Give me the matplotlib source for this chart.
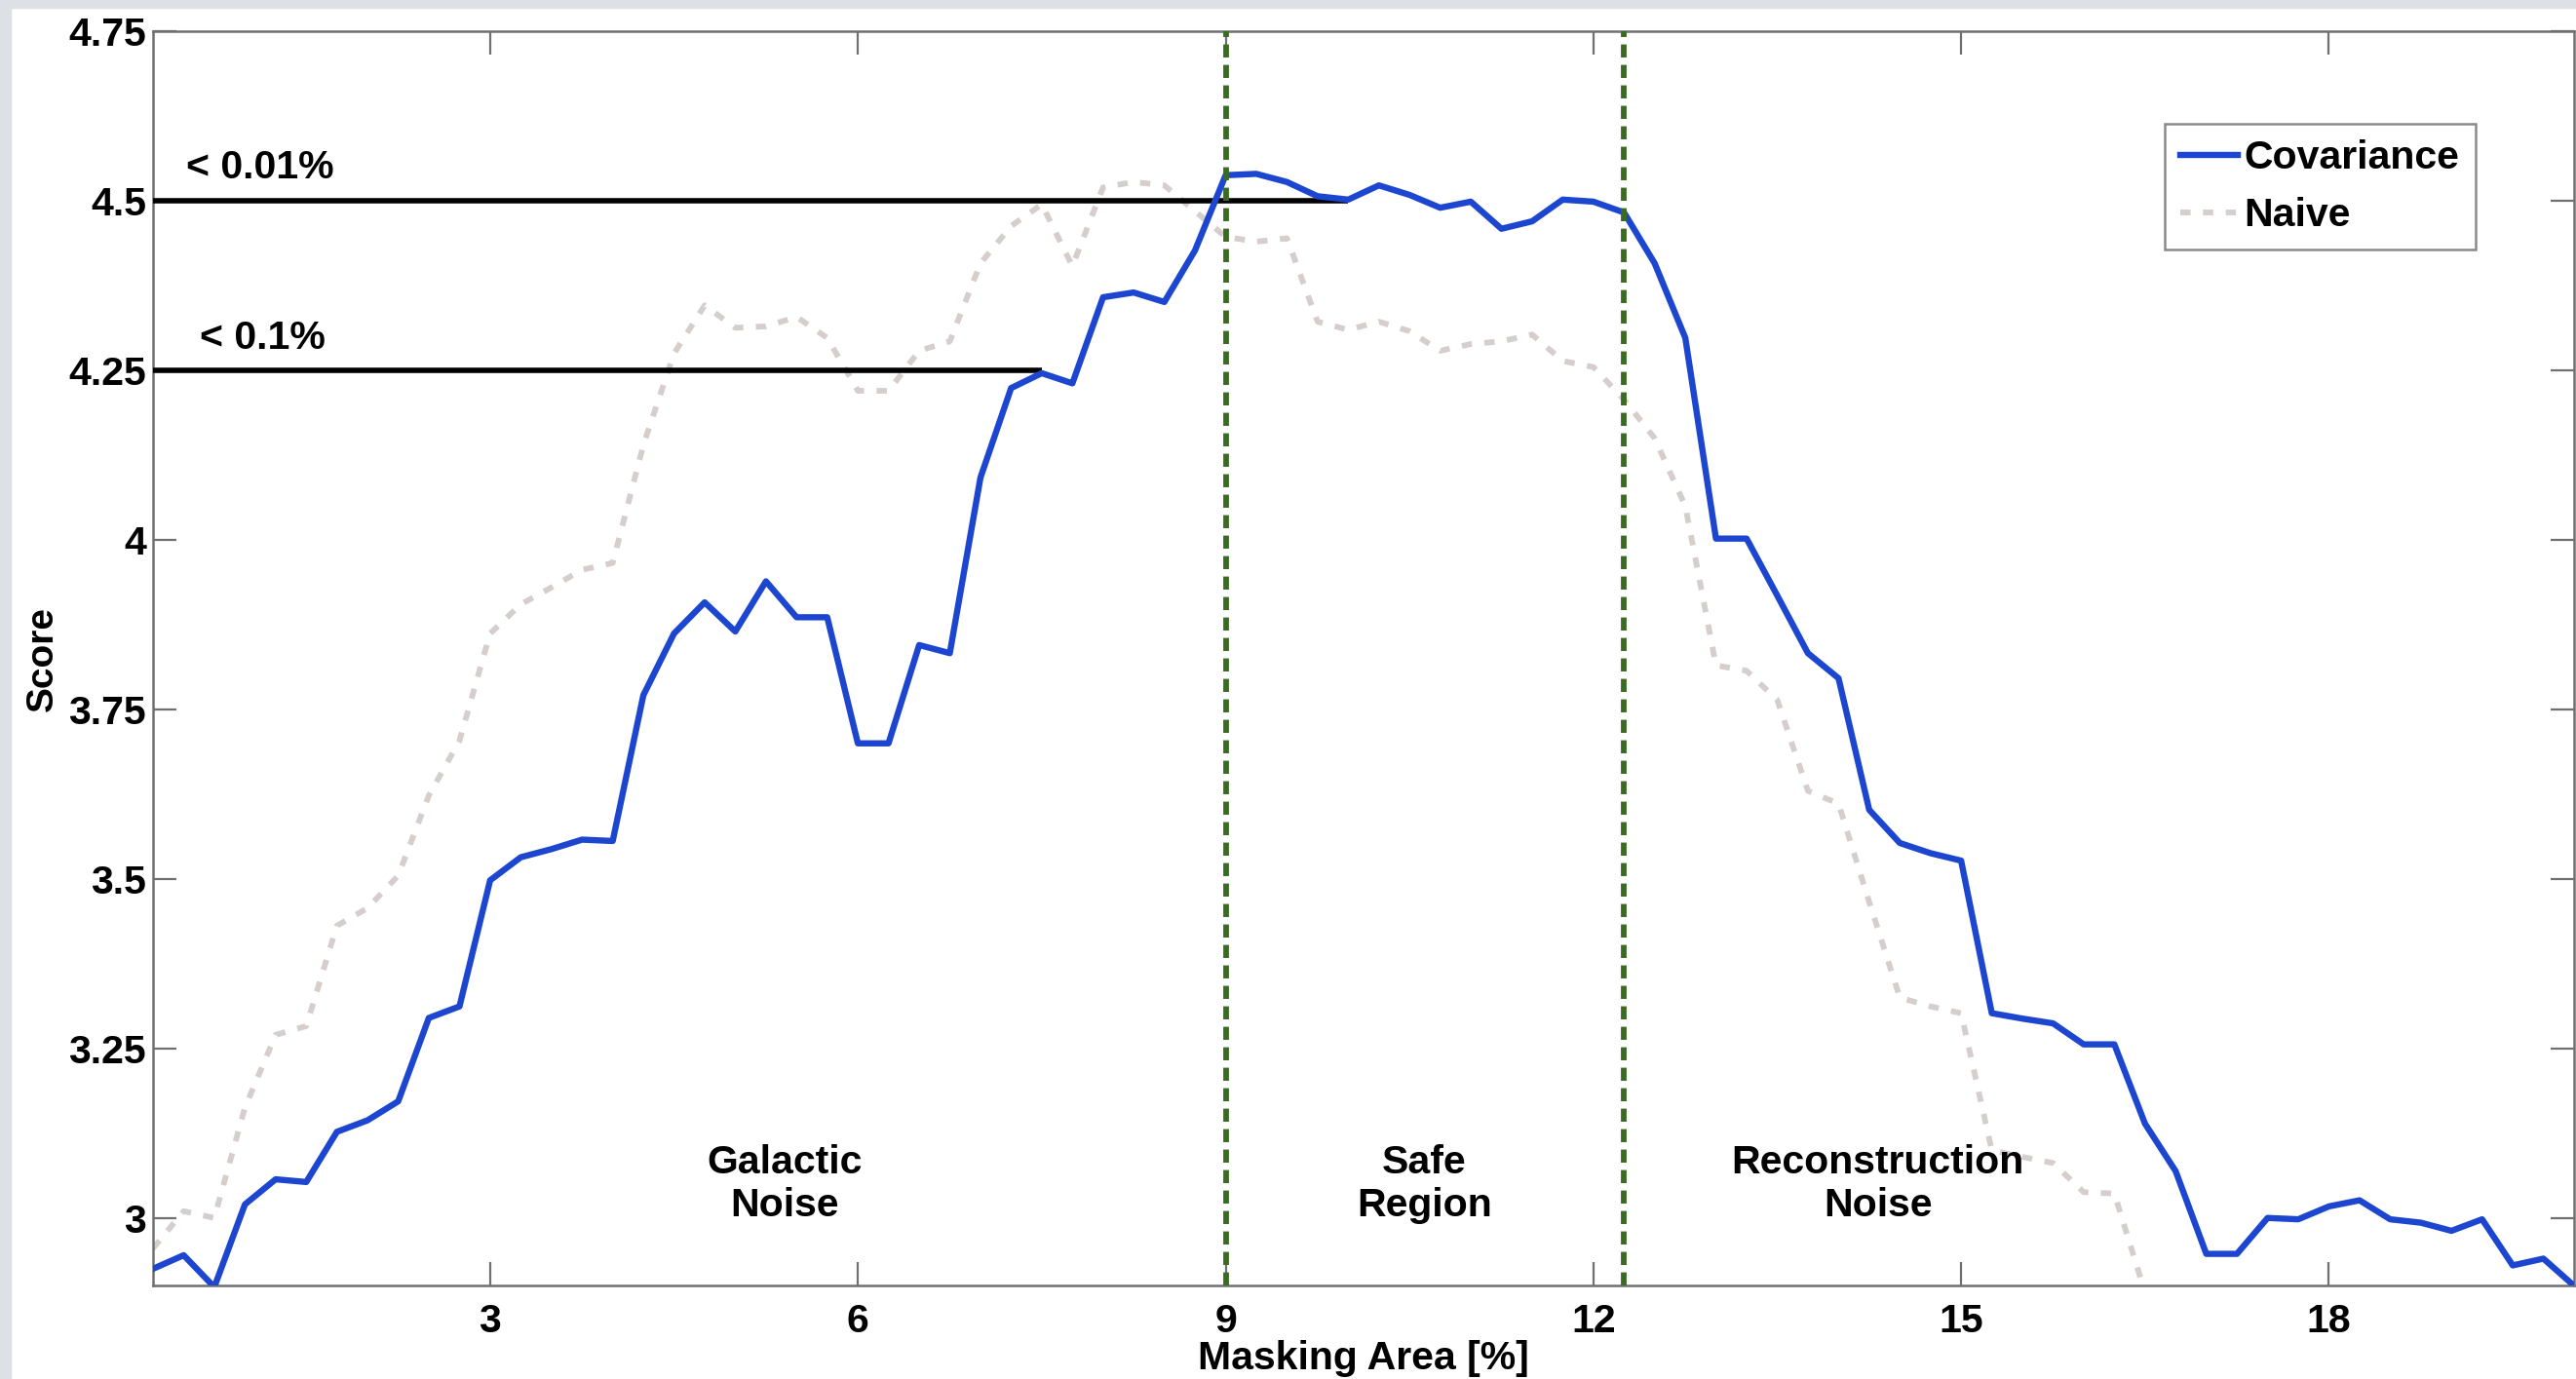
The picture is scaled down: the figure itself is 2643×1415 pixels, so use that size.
import matplotlib
matplotlib.use("Agg")
import matplotlib.pyplot as plt
from matplotlib.patches import Rectangle

plt.rcParams['font.family'] = ['Liberation Sans', 'DejaVu Sans']

# ---------------- data ----------------
masking_area = [0.25, 0.5, 0.75, 1.0, 1.25, 1.5, 1.75, 2.0, 2.25, 2.5, 2.75, 3.0,
                3.25, 3.5, 3.75, 4.0, 4.25, 4.5, 4.75, 5.0, 5.25, 5.5, 5.75, 6.0,
                6.25, 6.5, 6.75, 7.0, 7.25, 7.5, 7.75, 8.0, 8.25, 8.5, 8.75, 9.0,
                9.25, 9.5, 9.75, 10.0, 10.25, 10.5, 10.75, 11.0, 11.25, 11.5, 11.75, 12.0,
                12.25, 12.5, 12.75, 13.0, 13.25, 13.5, 13.75, 14.0, 14.25, 14.5, 14.75, 15.0,
                15.25, 15.5, 15.75, 16.0, 16.25, 16.5, 16.75, 17.0, 17.25, 17.5, 17.75, 18.0,
                18.25, 18.5, 18.75, 19.0, 19.25, 19.5, 19.75, 20.0]

covariance = [2.925, 2.945, 2.898, 3.02, 3.057, 3.053, 3.127, 3.144, 3.172, 3.295, 3.312, 3.498,
              3.532, 3.544, 3.558, 3.556, 3.771, 3.862, 3.908, 3.865, 3.939, 3.886, 3.886, 3.70,
              3.70, 3.845, 3.833, 4.092, 4.224, 4.246, 4.231, 4.358, 4.365, 4.351, 4.427, 4.538,
              4.54, 4.528, 4.507, 4.502, 4.523, 4.509, 4.49, 4.499, 4.459, 4.47, 4.502, 4.499,
              4.483, 4.408, 4.298, 4.002, 4.002, 3.918, 3.833, 3.796, 3.602, 3.553, 3.538, 3.527,
              3.302, 3.294, 3.287, 3.256, 3.256, 3.139, 3.069, 2.947, 2.947, 3.0, 2.998, 3.017,
              3.026, 2.998, 2.993, 2.981, 2.998, 2.93, 2.94, 2.90]

naive = [2.955, 3.01, 3.0, 3.163, 3.27, 3.283, 3.431, 3.457, 3.505, 3.623, 3.704, 3.862,
         3.905, 3.93, 3.956, 3.966, 4.14, 4.275, 4.346, 4.313, 4.315, 4.329, 4.298, 4.22,
         4.22, 4.279, 4.293, 4.408, 4.463, 4.495, 4.404, 4.52, 4.528, 4.523, 4.485, 4.447,
         4.44, 4.445, 4.322, 4.31, 4.322, 4.308, 4.279, 4.289, 4.293, 4.303, 4.264, 4.255,
         4.207, 4.15, 4.05, 3.815, 3.807, 3.764, 3.63, 3.611, 3.466, 3.325, 3.312, 3.302,
         3.10, 3.09, 3.081, 3.038, 3.036, 2.89]
naive_area = masking_area[:len(naive)]

region_bounds = [9.0, 12.25]
threshold_levels = [4.5, 4.25]
threshold_ends = [10.0, 7.5]
threshold_labels = ['< 0.01%', '< 0.1%']
threshold_label_pos = [(0.52, 4.549), (0.63, 4.298)]

region_labels = ['Galactic\nNoise', 'Safe\nRegion', 'Reconstruction\nNoise']
region_label_x = [5.4, 10.62, 14.32]
region_label_y = 3.05

x_ticks = [3, 6, 9, 12, 15, 18]
y_ticks = [3, 3.25, 3.5, 3.75, 4, 4.25, 4.5, 4.75]
y_ticklabels = ['3', '3.25', '3.5', '3.75', '4', '4.25', '4.5', '4.75']

FS = 29.5

# ---------------- figure ----------------
W, H = 2643, 1415
fig = plt.figure(figsize=(W / 100, H / 100), dpi=100, facecolor='white')

# screenshot bezel
bez = '#dde0e4'
fig.patches.append(Rectangle((0, 0), 11 / W, 1, transform=fig.transFigure, color=bez, zorder=0))
fig.patches.append(Rectangle((0, 1 - 8 / H), 1, 8 / H, transform=fig.transFigure, color=bez, zorder=0))

ax = fig.add_axes([157 / W, 1 - 1319.3 / H, (2641 - 157) / W, (1319.3 - 32.3) / H])
ax.set_xlim(0.25, 20)
ax.set_ylim(2.9, 4.75)

spine_col = '#707070'
for s in ax.spines.values():
    s.set_color(spine_col)
    s.set_linewidth(1.8)

# naive (light gray dashed)
ax.plot(naive_area, naive, color='#d6cdcd', lw=4.2, dashes=(1.8, 2.2),
        label='Naive', zorder=2, dash_capstyle='butt')

# threshold lines
for lvl, xe in zip(threshold_levels, threshold_ends):
    ax.plot([0.25, xe], [lvl, lvl], color='black', lw=4.0, zorder=3,
            solid_capstyle='butt')
for lab, (tx, ty) in zip(threshold_labels, threshold_label_pos):
    ax.text(tx, ty, lab, fontsize=FS, fontweight='bold', ha='left', va='center', zorder=5)

# covariance (blue)
ax.plot(masking_area, covariance, color='#1c46cf', lw=4.6, label='Covariance', zorder=4)

# region boundaries
for xb in region_bounds:
    ax.axvline(xb, color='#3b6b22', lw=4.2, dashes=(2.3, 1.3), zorder=6)

for lab, lx in zip(region_labels, region_label_x):
    ax.text(lx, region_label_y, lab, fontsize=FS, fontweight='bold', ha='center',
            va='center', linespacing=1.2, zorder=5)

ax.set_xticks(x_ticks)
ax.set_xticklabels([str(t) for t in x_ticks])
ax.set_yticks(y_ticks)
ax.set_yticklabels(y_ticklabels)
ax.tick_params(axis='both', which='both', direction='in', length=17, width=1.6,
               color=spine_col, top=True, right=True, labelsize=FS)
ax.tick_params(axis='x', pad=13)
ax.tick_params(axis='y', pad=5)
for lbl in ax.get_xticklabels() + ax.get_yticklabels():
    lbl.set_fontweight('bold')

ax.set_xlabel('Masking Area [%]', fontsize=FS, fontweight='bold', labelpad=0)
ax.set_ylabel('Score', fontsize=28, fontweight='bold', labelpad=6)

# legend
handles, labels = ax.get_legend_handles_labels()
order = [labels.index('Covariance'), labels.index('Naive')]
leg = ax.legend([handles[i] for i in order], [labels[i] for i in order],
                loc='upper right', bbox_to_anchor=(0.9593, 0.9264),
                fancybox=False, framealpha=1, edgecolor='#8a8a8a',
                prop={'weight': 'bold', 'size': FS}, handlelength=1.45,
                handletextpad=0.15, borderpad=0.4, labelspacing=0.5,
                borderaxespad=0)
leg.get_frame().set_linewidth(1.8)

fig.savefig('out.png', dpi=100, facecolor=fig.get_facecolor())
